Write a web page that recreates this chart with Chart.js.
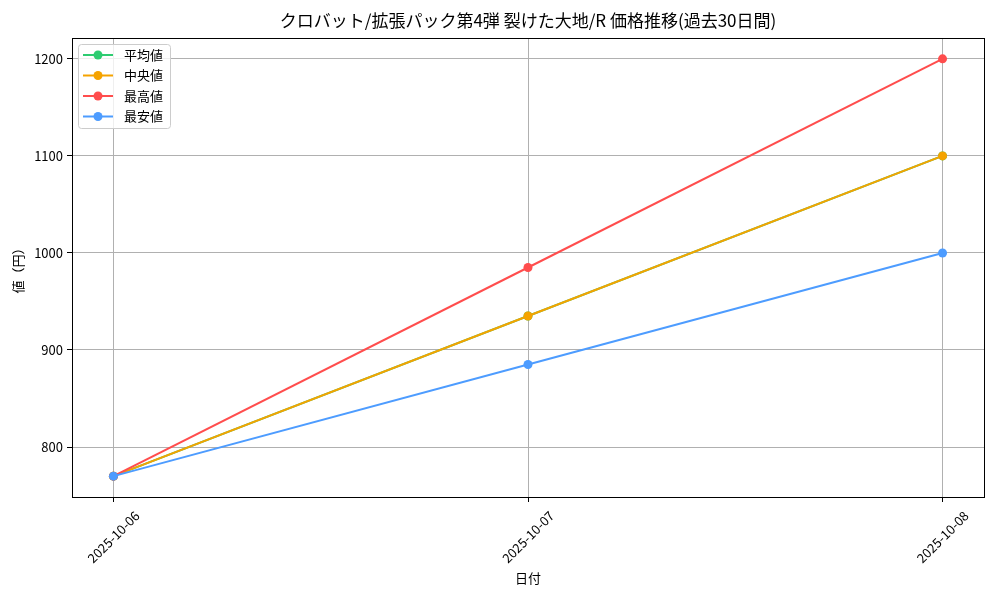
<!DOCTYPE html>
<html>
<head>
<meta charset="utf-8">
<script src="https://cdn.jsdelivr.net/npm/chart.js@4/dist/chart.umd.min.js"></script>
<style>
  html, body { margin: 0; padding: 0; background: #fff; }
  #wrap { width: 1000px; height: 600px; }
</style>
</head>
<body>
<div id="wrap"><canvas id="priceChart" width="1000" height="600"></canvas></div>
<script>
// ---- データ ----
const dates = ['2025-10-06', '2025-10-07', '2025-10-08'];
const avgPrice = [770, 935, 1100];     // 平均値
const medianPrice = [770, 935, 1100];  // 中央値
const maxPrice = [770, 985, 1200];     // 最高値
const minPrice = [770, 885, 1000];     // 最安値
const yTicks = [800, 900, 1000, 1100, 1200];
const chartTitle = 'クロバット/拡張パック第4弾 裂けた大地/R 価格推移(過去30日間)';

const FONT = '"Noto Sans CJK JP", "DejaVu Sans", sans-serif';

// 日付の並び順をx座標として使う
const toPoints = arr => arr.map((v, i) => ({ x: i, y: v }));

// 枠線 (上・右も含めて四辺) とタイトル (プロット領域の中央)
const framePlugin = {
    id: 'frame',
    afterDatasetsDraw(chart) {
        const { ctx, chartArea: a } = chart;
        ctx.save();
        ctx.strokeStyle = '#000';
        ctx.lineWidth = 1;
        ctx.strokeRect(Math.round(a.left) + 0.5, Math.round(a.top) + 0.5,
            Math.round(a.right - a.left), Math.round(a.bottom - a.top));
        ctx.font = '17px ' + FONT;
        ctx.fillStyle = '#000';
        ctx.textAlign = 'center';
        ctx.textBaseline = 'middle';
        ctx.fillText(chartTitle, (a.left + a.right) / 2, 21);
        ctx.restore();
    }
};

// x軸ラベル: 45度回転、中心をメモリに合わせる
const xLabelPlugin = {
    id: 'xLabels',
    afterDraw(chart) {
        const { ctx, scales: { x } } = chart;
        ctx.save();
        ctx.font = '13px ' + FONT;
        ctx.fillStyle = '#000';
        ctx.textAlign = 'center';
        ctx.textBaseline = 'middle';
        x.ticks.forEach(t => {
            ctx.save();
            ctx.translate(x.getPixelForValue(t.value), x.top + 40);
            ctx.rotate(-Math.PI / 4);
            ctx.fillText(dates[t.value], 0, 0);
            ctx.restore();
        });
        ctx.restore();
    }
};

// matplotlib風の凡例 (線+マーカー)
const legendPlugin = {
    id: 'mplLegend',
    afterDraw(chart) {
        const { ctx, chartArea: a } = chart;
        const sets = chart.data.datasets;
        const x0 = a.left + 6, y0 = a.top + 6;
        const w = 92, rowH = 20.5, h = sets.length * rowH + 2;
        ctx.save();
        ctx.fillStyle = 'rgba(255,255,255,0.8)';
        ctx.strokeStyle = '#cccccc';
        ctx.lineWidth = 1;
        ctx.beginPath();
        ctx.roundRect(x0 + 0.5, y0 + 0.5, w, h, 3);
        ctx.fill();
        ctx.stroke();
        ctx.font = '13px ' + FONT;
        ctx.textBaseline = 'middle';
        sets.forEach((ds, i) => {
            const cy = y0 + 11 + i * rowH;
            ctx.strokeStyle = ds.borderColor;
            ctx.lineWidth = 2;
            ctx.beginPath();
            ctx.moveTo(x0 + 5, cy);
            ctx.lineTo(x0 + 35, cy);
            ctx.stroke();
            ctx.fillStyle = ds.borderColor;
            ctx.beginPath();
            ctx.arc(x0 + 20, cy, 4.5, 0, Math.PI * 2);
            ctx.fill();
            ctx.fillStyle = '#000';
            ctx.fillText(ds.label, x0 + 46, cy);
        });
        ctx.restore();
    }
};

function series(label, values, color, order) {
    return {
        label: label,
        data: toPoints(values),
        borderColor: color,
        backgroundColor: color,
        borderWidth: 2,
        pointRadius: 4.5,
        pointBorderWidth: 0,
        pointBackgroundColor: color,
        tension: 0,
        order: order
    };
}

new Chart(document.getElementById('priceChart').getContext('2d'), {
    type: 'line',
    data: {
        datasets: [
            series('平均値', avgPrice, '#2ecc71', 4),
            series('中央値', medianPrice, '#f5a300', 3),
            series('最高値', maxPrice, '#ff4d4d', 2),
            series('最安値', minPrice, '#4d9cff', 1)
        ]
    },
    options: {
        responsive: false,
        animation: false,
        layout: { padding: { left: 0, right: 16, top: 38, bottom: 0 } },
        plugins: {
            legend: { display: false },
            tooltip: { enabled: false },
            title: { display: false }
        },
        scales: {
            x: {
                type: 'linear',
                min: -0.1,
                max: 2.1,
                afterBuildTicks: s => { s.ticks = dates.map((d, i) => ({ value: i })); },
                afterFit: s => { s.height = 103; },
                ticks: { display: false },
                grid: { color: '#b0b0b0', tickColor: '#000', tickLength: 5, lineWidth: 1 },
                border: { color: '#000', width: 1 },
                title: {
                    display: true,
                    text: '日付',
                    color: '#000',
                    font: { family: FONT, size: 13 },
                    padding: { top: 0, bottom: 14 }
                }
            },
            y: {
                type: 'linear',
                min: 748.5,
                max: 1221.5,
                afterBuildTicks: s => { s.ticks = yTicks.map(v => ({ value: v })); },
                afterFit: s => { s.width = 72; },
                ticks: {
                    callback: v => String(v),
                    color: '#000',
                    padding: 4,
                    font: { family: FONT, size: 13 }
                },
                grid: { color: '#b0b0b0', tickColor: '#000', tickLength: 5, lineWidth: 1 },
                border: { color: '#000', width: 1 },
                title: {
                    display: true,
                    text: '値（円）',
                    color: '#000',
                    font: { family: FONT, size: 13 },
                    padding: { top: 10, bottom: 0 }
                }
            }
        }
    },
    plugins: [framePlugin, xLabelPlugin, legendPlugin]
});
</script>
</body>
</html>
